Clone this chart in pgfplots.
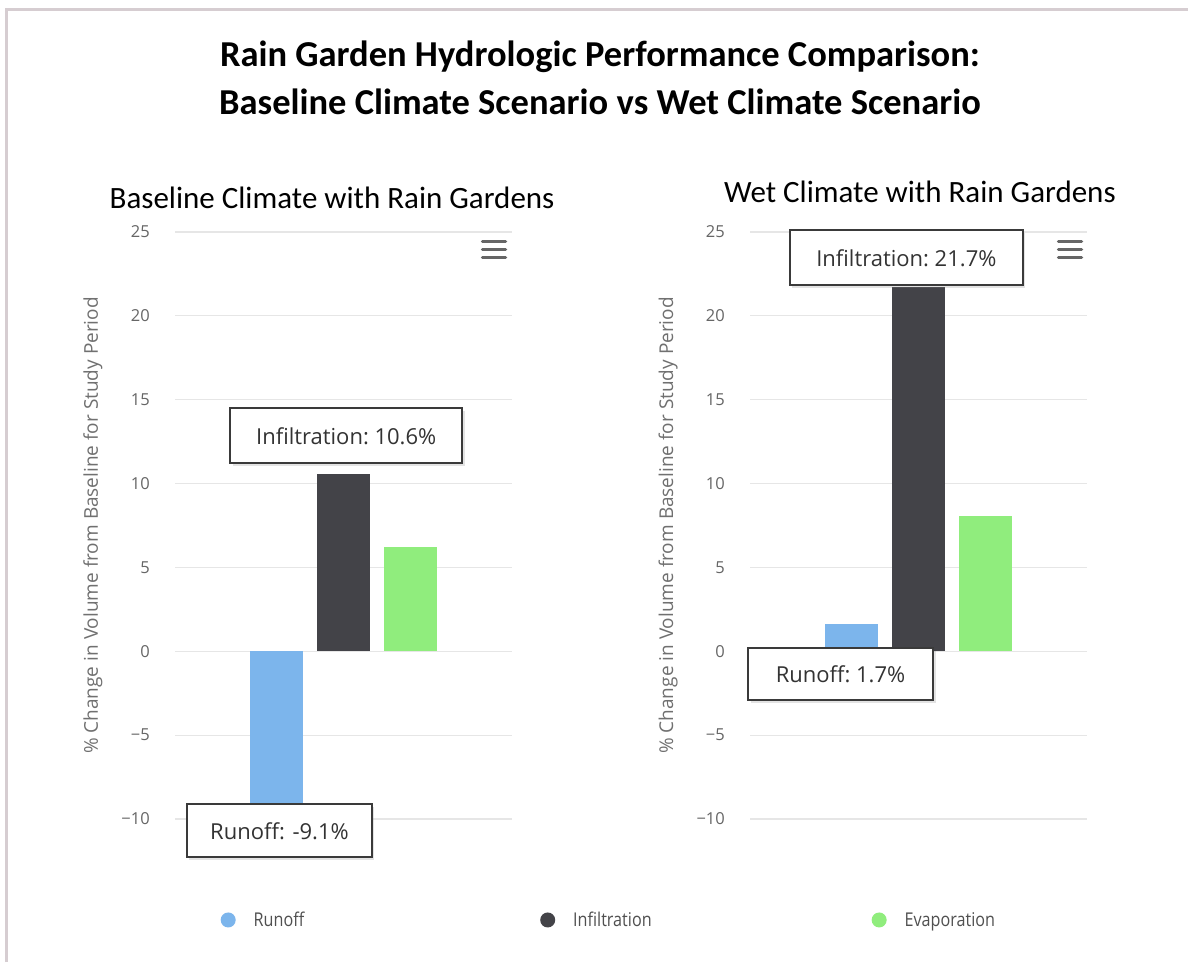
\documentclass[border=0pt]{standalone}
\usepackage{fontspec}
\usepackage{pgfplots}
\pgfplotsset{compat=1.18}
\usetikzlibrary{shadows}
\setmainfont{Open Sans}
\newfontfamily\titlefont{Carlito}
\newfontfamily\legendfont[FakeStretch=0.85]{Open Sans}
\definecolor{runoff}{HTML}{7CB5EC}
\definecolor{infil}{HTML}{434348}
\definecolor{evap}{HTML}{90ED7D}
\definecolor{gridgray}{HTML}{E6E6E6}
\definecolor{tickgray}{HTML}{666666}
\definecolor{labelgray}{HTML}{707070}
\definecolor{legendgray}{HTML}{505050}
\definecolor{framecol}{HTML}{D6CDD1}
\definecolor{calloutgray}{HTML}{3A3A3A}
\definecolor{menugray}{HTML}{666666}

\tikzset{callout/.style={draw=calloutgray, line width=2.2pt, fill=white, font=\fontsize{22}{24}\selectfont, text=black!80,
    drop shadow={opacity=0.22, shadow xshift=2.5pt, shadow yshift=-3pt}}}

\pgfplotsset{rgstyle/.style={
  scale only axis, width=337pt, height=587pt,
  xmin=-2.5, xmax=2.5, ymin=-10, ymax=25,
  axis line style={draw=none},
  xtick=\empty,
  ytick={-10,-5,0,5,10,15,20,25},
  yticklabels={−10,−5,0,5,10,15,20,25},
  major tick length=0pt,
  ymajorgrids, grid style={draw=gridgray, line width=1.2pt},
  yticklabel style={font=\fontsize{16.5}{18}\selectfont, text=tickgray, anchor=east, inner sep=0pt, xshift=-25pt},
  ylabel={\% Change in Volume from Baseline for Study Period},
  every axis y label/.style={at={(axis description cs:-0.2433,0.5)}, rotate=90, anchor=center, font=\fontsize{19}{21}\selectfont, text=labelgray},
  ybar=14pt, bar width=53pt,
  clip=false,
  dotlegend/.style={legend image code/.code={\fill[##1, draw=none] (0pt,0pt) circle (7.5pt);}},
}}

\begin{document}
\begin{tikzpicture}[x=1pt,y=1pt]
\useasboundingbox (0,0) rectangle (1188,962);
\fill[white] (0,0) rectangle (1188,962);
% frame
\draw[framecol, line width=2.5pt] (6.5,0) -- (6.5,952.5) -- (1188,952.5);
% main title
\node[anchor=base, inner sep=0pt, font=\titlefont\bfseries\fontsize{36.5}{39}\selectfont, text=black] at (600,895) {Rain Garden Hydrologic Performance Comparison:};
\node[anchor=base, inner sep=0pt, font=\titlefont\bfseries\fontsize{36.5}{39}\selectfont, text=black] at (600,847) {Baseline Climate Scenario vs Wet Climate Scenario};

% left panel
\begin{axis}[rgstyle, at={(175pt,143pt)}, anchor=south west,
  title={Baseline Climate with Rain Gardens},
  title style={at={(axis description cs:0.466,1)}, anchor=base, inner sep=0pt, yshift=17pt, font=\titlefont\fontsize{31}{34}\selectfont, text=black},
  legend columns=3,
  legend style={draw=none, fill=none, inner sep=0pt, at={(axis description cs:0.135,-0.172)}, anchor=west,
    font=\legendfont\fontsize{19}{21}\selectfont, text=legendgray,
    /tikz/every odd column/.append style={column sep=16pt},
    /tikz/column 2/.append style={column sep=234pt},
    /tikz/column 4/.append style={column sep=218pt}},
]
\addplot[fill=runoff, draw=none, dotlegend] coordinates {(0,-9.1)};
\addplot[fill=infil, draw=none, dotlegend] coordinates {(0,10.6)};
\addplot[fill=evap, draw=none, dotlegend] coordinates {(0,6.2)};
\legend{Runoff,Infiltration,Evaporation}
\node[callout, minimum width=232pt, minimum height=55pt] at (axis cs:0.04,12.85) {Infiltration:~10.6\%};
\node[callout, minimum width=185pt, minimum height=53pt] at (axis cs:-0.95,-10.70) {Runoff: -9.1\%};
\end{axis}

% right panel
\begin{axis}[rgstyle, at={(750pt,143pt)}, anchor=south west,
  title={Wet Climate with Rain Gardens},
  title style={at={(axis description cs:0.504,1)}, anchor=base, inner sep=0pt, yshift=23pt, font=\titlefont\fontsize{31}{34}\selectfont, text=black},
]
\addplot[fill=runoff, draw=none] coordinates {(0,1.6)};
\addplot[fill=infil, draw=none] coordinates {(0,21.7)};
\addplot[fill=evap, draw=none] coordinates {(0,8.05)};
\node[callout, minimum width=233pt, minimum height=55pt] at (axis cs:-0.18,23.46) {Infiltration:~21.7\%};
\node[callout, minimum width=185pt, minimum height=52pt] at (axis cs:-1.157,-1.37) {Runoff:~1.7\%};
\end{axis}

% menu icons
\foreach \mx in {481,1057}{
  \foreach \my in {720.5,712.7,704.7}{
    \draw[menugray, line width=3.5pt, line cap=round] (\mx+1.5,\my) -- (\mx+24.5,\my);
  }
}
\end{tikzpicture}
\end{document}
